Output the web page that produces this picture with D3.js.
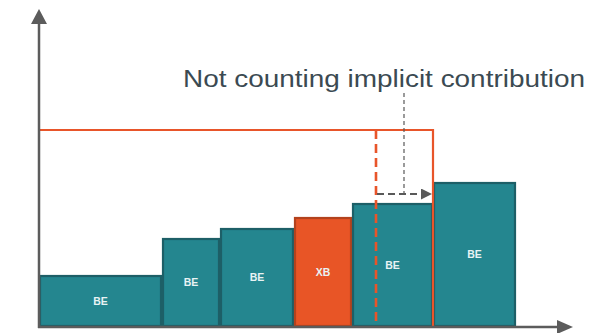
<!DOCTYPE html>
<html>
<head>
<meta charset="utf-8">
<script src="https://cdn.jsdelivr.net/npm/d3@7"></script>
<style>
  html, body { margin: 0; padding: 0; background: #fff; }
  svg { display: block; }
</style>
</head>
<body>
<svg id="chart" width="611" height="333"></svg>
<script>
// Contribution blocks: widths along x, heights along y
const categories = ["BE", "BE", "BE", "XB", "BE", "BE"];
const widths  = [123, 58, 74, 58, 81, 83];
const heights = [52, 89, 99, 110, 124, 145];
const kinds   = ["be", "be", "be", "xb", "be", "be"];

// Threshold level and markers
const thresholdLevel = 197;
const thresholdEnd = 394;       // where the solid threshold drops
const implicitStart = 337;      // dashed marker (counting implicit contribution)
const gapLevel = 133;           // height of the shift arrow
const leaderX = 365;
const leaderTop = 234;
const annotation = "Not counting implicit contribution";

const svg = d3.select("#chart");
const x = d3.scaleLinear().domain([0, 533]).range([39, 572]);
const y = d3.scaleLinear().domain([0, 317]).range([327, 10]);

const fills = { be: "#24868f", xb: "#e85526" };
const strokes = { be: "#1d5f67", xb: "#b3421d" };

// cumulative x positions
let acc = 0;
const bars = widths.map((w, i) => {
  const b = { x0: acc, x1: acc + w, h: heights[i], label: categories[i], kind: kinds[i] };
  acc += w;
  return b;
});

svg.append("g").selectAll("rect").data(bars).join("rect")
  .attr("x", d => x(d.x0) + 1)
  .attr("y", d => y(d.h) + 1)
  .attr("width", d => x(d.x1) - x(d.x0) - 2)
  .attr("height", d => y(0) - y(d.h) - 2)
  .attr("fill", d => fills[d.kind])
  .attr("stroke", d => strokes[d.kind])
  .attr("stroke-width", 2.2);

svg.append("g").selectAll("text").data(bars).join("text")
  .attr("x", d => (x(d.x0) + x(d.x1)) / 2)
  .attr("y", d => (y(d.h) + y(0)) / 2)
  .attr("dy", "0.35em")
  .attr("text-anchor", "middle")
  .attr("fill", "#e8f3f4")
  .attr("font-family", "Liberation Sans, Arial, sans-serif")
  .attr("font-weight", "bold")
  .attr("font-size", 10.5)
  .text(d => d.label);

// threshold: solid orange line across and down
svg.append("path")
  .attr("d", `M${x(0)},${y(thresholdLevel)} H${x(thresholdEnd)} V${y(0)}`)
  .attr("fill", "none")
  .attr("stroke", "#e8552a")
  .attr("stroke-width", 2.2);

// dashed orange marker
svg.append("line")
  .attr("x1", x(implicitStart)).attr("x2", x(implicitStart))
  .attr("y1", y(thresholdLevel)).attr("y2", y(0))
  .attr("stroke", "#e8552a")
  .attr("stroke-width", 2.6)
  .attr("stroke-dasharray", "9,5");

// gray shift arrow and leader
const defs = svg.append("defs");
defs.append("marker")
  .attr("id", "shiftHead")
  .attr("viewBox", "0 0 10 10")
  .attr("refX", 10).attr("refY", 5)
  .attr("markerWidth", 5).attr("markerHeight", 5)
  .attr("markerUnits", "strokeWidth")
  .attr("orient", "auto")
  .append("path").attr("d", "M0,0 L10,5 L0,10 Z").attr("fill", "#595959");

svg.append("line")
  .attr("x1", x(leaderX)).attr("x2", x(leaderX))
  .attr("y1", y(leaderTop)).attr("y2", y(gapLevel))
  .attr("stroke", "#595959")
  .attr("stroke-width", 1.2)
  .attr("stroke-dasharray", "4,3");

svg.append("line")
  .attr("x1", x(implicitStart) + 1).attr("x2", x(thresholdEnd) - 1)
  .attr("y1", y(gapLevel)).attr("y2", y(gapLevel))
  .attr("stroke", "#595959")
  .attr("stroke-width", 2.2)
  .attr("stroke-dasharray", "7,4")
  .attr("marker-end", "url(#shiftHead)");

// annotation (wide setting)
svg.append("text")
  .attr("x", 183)
  .attr("y", 87)
  .attr("fill", "#3b4a52")
  .attr("font-family", "Liberation Sans, Arial, sans-serif")
  .attr("font-size", 23.5)
  .attr("textLength", 402)
  .attr("lengthAdjust", "spacingAndGlyphs")
  .text(annotation);

// axes with arrowheads
const axisColor = "#5c5c5c";
svg.append("line")
  .attr("x1", x(0)).attr("x2", x(0))
  .attr("y1", y(0) + 1).attr("y2", 22)
  .attr("stroke", axisColor).attr("stroke-width", 2.5);
svg.append("path")
  .attr("d", `M${x(0)},9 L${x(0) + 8},24 L${x(0) - 8},24 Z`)
  .attr("fill", axisColor);

svg.append("line")
  .attr("x1", x(0) - 1).attr("x2", 560)
  .attr("y1", y(0)).attr("y2", y(0))
  .attr("stroke", axisColor).attr("stroke-width", 2.5);
svg.append("path")
  .attr("d", `M573,${y(0)} L557,${y(0) - 7} L557,${y(0) + 7} Z`)
  .attr("fill", axisColor);
</script>
</body>
</html>
